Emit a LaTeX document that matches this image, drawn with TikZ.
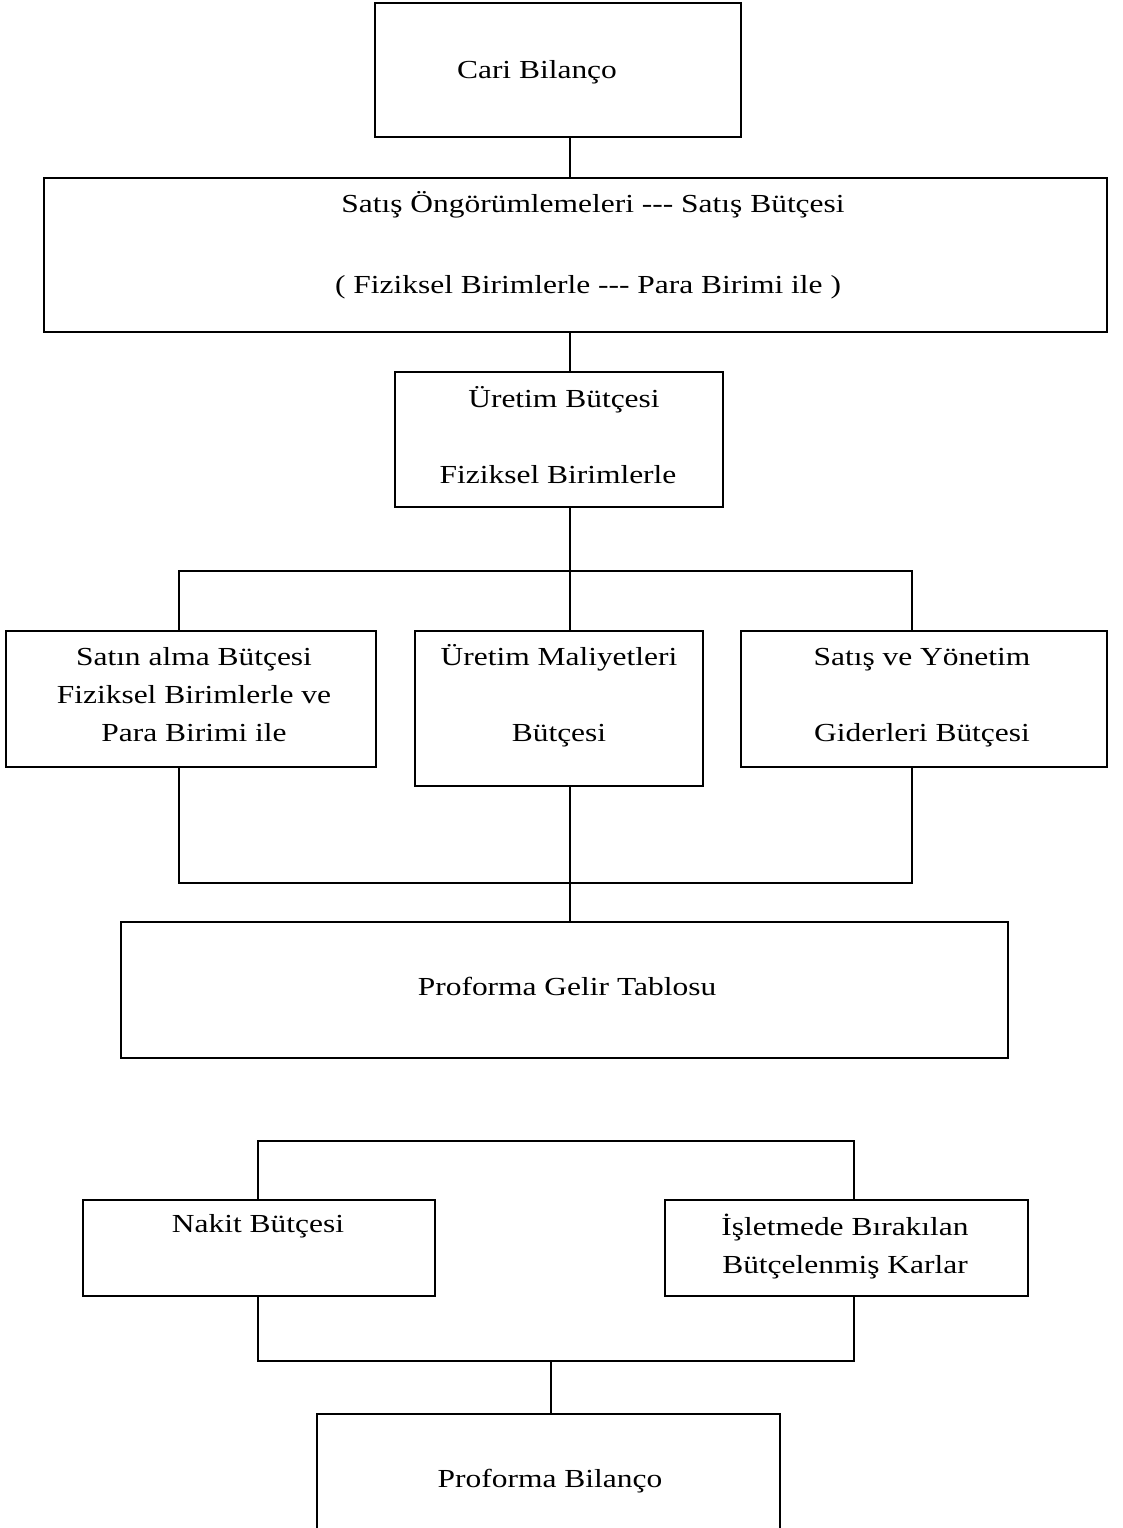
\documentclass[tikz,border=0pt]{standalone}
\usepackage{fontspec}
\setmainfont{Liberation Serif}[FakeStretch=1.21]
\tikzstyle{kutu} = [draw, line width=0.85pt, inner sep=0pt]
\tikzstyle{yazi} = [anchor=base, inner sep=0pt, font=\fontsize{10.4}{12}\selectfont]
\tikzstyle{hat} = [line width=0.65pt]
\newcommand\Kutu[5]{%
	\node[kutu, minimum width={(#4-#2)*0.4pt}, minimum height={(#5-#3)*0.4pt}]
		(#1) at ({(#2+#4)/2},{(#3+#5)/2}) {};
	}
\begin{document}
\begin{tikzpicture}[x=0.4pt, y=-0.4pt]
\useasboundingbox (0,0) rectangle (1122,1528);
\clip (0,0) rectangle (1122,1528);

% kutular
\Kutu{cari}{375}{3}{741}{137}
\Kutu{satis}{44}{178}{1107}{332}
\Kutu{uretim}{395}{372}{723}{507}
\Kutu{satin}{6}{631}{376}{767}
\Kutu{maliyet}{415}{631}{703}{786}
\Kutu{yonetim}{741}{631}{1107}{767}
\Kutu{gelir}{121}{922}{1008}{1058}
\Kutu{nakit}{83}{1200}{435}{1296}
\Kutu{isletme}{665}{1200}{1028}{1296}
\Kutu{bilanco}{317}{1414}{780}{1560}

% yazilar
\node[yazi] (cari-y) at (537,78) {Cari Bilanço};
\node[yazi] (satis-y1) at (593,212) {Satış Öngörümlemeleri -{}-{}- Satış Bütçesi};
\node[yazi] (satis-y2) at (588,293) {( Fiziksel Birimlerle -{}-{}- Para Birimi ile )};
\node[yazi] (uretim-y1) at (564,407) {Üretim Bütçesi};
\node[yazi] (uretim-y2) at (558,483) {Fiziksel Birimlerle};
\node[yazi] (satin-y1) at (194,665) {Satın alma Bütçesi};
\node[yazi] (satin-y2) at (194,703) {Fiziksel Birimlerle ve};
\node[yazi] (satin-y3) at (194,741) {Para Birimi ile};
\node[yazi] (maliyet-y1) at (559,665) {Üretim Maliyetleri};
\node[yazi] (maliyet-y2) at (559,741) {Bütçesi};
\node[yazi] (yonetim-y1) at (922,665) {Satış ve Yönetim};
\node[yazi] (yonetim-y2) at (922,741) {Giderleri Bütçesi};
\node[yazi] (gelir-y) at (567,995) {Proforma Gelir Tablosu};
\node[yazi] (nakit-y) at (258,1232) {Nakit Bütçesi};
\node[yazi] (isletme-y1) at (845,1235) {İşletmede Bırakılan};
\node[yazi] (isletme-y2) at (845,1273) {Bütçelenmiş Karlar};
\node[yazi] (bilanco-y) at (550,1487) {Proforma Bilanço};

% baglanti noktalari
\coordinate (eksen) at (570,0);
\coordinate (sol1) at (179,571);
\coordinate (sag1) at (912,571);
\coordinate (sol2) at (179,883);
\coordinate (sag2) at (912,883);
\coordinate (sol3) at (258,1141);
\coordinate (sag3) at (854,1141);
\coordinate (sol4) at (258,1361);
\coordinate (sag4) at (854,1361);
\coordinate (eksen2) at (551,1361);

% cizgiler
\draw[hat] (eksen |- cari.south) -- (eksen |- satis.north); % cari-satis
\draw[hat] (eksen |- satis.south) -- (eksen |- uretim.north); % satis-uretim
\draw[hat] (eksen |- uretim.south) -- (eksen |- maliyet.north); % uretim-maliyet
\draw[hat] (satin.north -| sol1) -- (sol1) -- (sag1) -- (yonetim.north -| sag1);
\draw[hat] (satin.south -| sol2) -- (sol2) -- (sag2) -- (yonetim.south -| sag2);
\draw[hat] (eksen |- maliyet.south) -- (eksen |- gelir.north); % maliyet-gelir
\draw[hat] (nakit.north -| sol3) -- (sol3) -- (sag3) -- (isletme.north -| sag3);
\draw[hat] (nakit.south -| sol4) -- (sol4) -- (sag4) -- (isletme.south -| sag4);
\draw[hat] (eksen2) -- (eksen2 |- bilanco.north); % bilanco

\end{tikzpicture}
\end{document}
